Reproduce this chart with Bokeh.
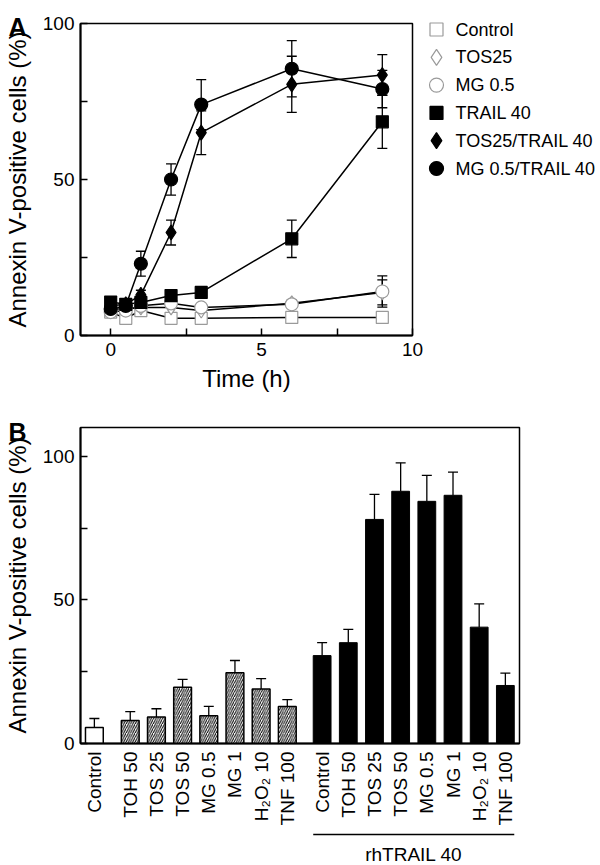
import math
from bokeh.plotting import figure
from bokeh.layouts import column
from bokeh.models import (Range1d, FixedTicker, Whisker, TeeHead, ColumnDataSource)
from bokeh.core.properties import value
from bokeh.embed import file_html
from bokeh.resources import INLINE

FONT = "Liberation Sans"

# ---------------- Panel A data ----------------
time_h = [0, 0.5, 1, 2, 3, 6, 9]
control = [7.5, 5.5, 8.0, 5.5, 5.5, 5.8, 5.8]
tos25 = [8.5, 8.5, 9.0, 9.0, 8.0, 10.3, 13.8]
mg05 = [7.5, 8.0, 9.5, 10.3, 9.0, 10.0, 14.1]
trail40 = [10.7, 10.0, 10.6, 12.8, 13.8, 31.0, 68.5]
tos_trail = [9.5, 10.0, 13.0, 33.0, 65.0, 80.5, 83.5]
mg_trail = [8.5, 9.5, 23.0, 50.0, 74.0, 85.5, 79.0]

control_err = [0, 0, 0, 0, 0, 0, 0]
tos25_err = [0, 0, 0, 0, 0, 1.0, 4.0]
mg05_err = [0, 0, 0, 0, 0, 1.0, 5.0]
trail40_err = [0, 0, 0, 1.0, 1.0, 6.0, 8.5]
tos_trail_err = [0, 0, 1.5, 4.0, 7.0, 9.0, 6.5]
mg_trail_err = [0, 0, 4.0, 5.0, 8.0, 9.0, 6.0]

series_labels = ["Control", "TOS25", "MG 0.5", "TRAIL 40", "TOS25/TRAIL 40", "MG 0.5/TRAIL 40"]

# ---------------- Panel B data ----------------
plain_labels = ["Control", "TOH 50", "TOS 25", "TOS 50", "MG 0.5", "MG 1", "H\u2082O\u2082 10", "TNF 100"]
plain_values = [5.6, 8.0, 9.2, 19.6, 9.7, 24.6, 19.0, 12.9]
plain_err = [3.1, 3.1, 2.9, 2.7, 3.2, 4.3, 3.6, 2.4]
trail_labels = ["Control", "TOH 50", "TOS 25", "TOS 50", "MG 0.5", "MG 1", "H\u2082O\u2082 10", "TNF 100"]
trail_values = [30.6, 35.1, 78.0, 87.8, 84.3, 86.4, 40.5, 20.2]
trail_err = [4.5, 4.6, 8.7, 9.9, 9.0, 8.1, 8.1, 4.3]
group_label = "rhTRAIL 40"
panel_letters = ["A", "B"]

OPEN = "#9a9a9a"
series_style = [  # marker, size, fill, outline
    ("square", 12, "white", OPEN),
    ("diamond", 15, "white", OPEN),
    ("circle", 13, "white", OPEN),
    ("square", 12, "black", "black"),
    ("diamond", 15, "black", "black"),
    ("circle", 13, "black", "black"),
]


def style_axes(p, tick_font="19px", label_font="24px"):
    p.xgrid.grid_line_color = None
    p.ygrid.grid_line_color = None
    p.outline_line_color = "black"
    p.outline_line_width = 1.5
    p.background_fill_color = "white"
    p.border_fill_color = "white"
    for ax in p.axis:
        ax.axis_line_width = 2
        ax.axis_line_color = "black"
        ax.major_tick_in = 7
        ax.major_tick_out = 0
        ax.major_tick_line_width = 1.5
        ax.minor_tick_line_color = None
        ax.major_label_text_font = FONT
        ax.major_label_text_font_size = tick_font
        ax.major_label_text_color = "black"
        ax.axis_label_text_font = FONT
        ax.axis_label_text_font_size = label_font
        ax.axis_label_text_font_style = "normal"
        ax.axis_label_text_color = "black"


def overlay_fig(left, top, width, height):
    """Small axis-less figure pinned at a page position (page-pixel data ranges)."""
    f = figure(width=width, height=height,
               x_range=Range1d(left, left + width), y_range=Range1d(top + height, top),
               output_backend="svg", toolbar_location=None,
               x_axis_location=None, y_axis_location=None,
               min_border=0, outline_line_color=None,
               styles={"position": "absolute", "left": f"{left}px", "top": f"{top}px"})
    f.xgrid.grid_line_color = None
    f.ygrid.grid_line_color = None
    f.border_fill_alpha = 0
    f.background_fill_alpha = 0
    return f


# ================= Panel A =================
pA = figure(width=592, height=418, x_range=Range1d(-1, 10), y_range=Range1d(0, 100),
            output_backend="svg", toolbar_location=None,
            min_border_left=78, min_border_right=180, min_border_top=23, min_border_bottom=83)
style_axes(pA)
pA.xaxis.ticker = FixedTicker(ticks=[0, 2.5, 5, 7.5, 10])
pA.xaxis.major_label_overrides = {0: "0", 2.5: "", 5: "5", 7.5: "", 10: "10"}
pA.yaxis.ticker = FixedTicker(ticks=[0, 25, 50, 75, 100])
pA.yaxis.major_label_overrides = {25: "", 75: ""}
pA.xaxis.axis_label = "Time (h)"
pA.yaxis.axis_label = "Annexin V-positive cells (%)"
pA.xaxis.major_label_standoff = 7
pA.yaxis.major_label_standoff = 6
pA.xaxis.axis_label_standoff = 6
pA.yaxis.axis_label_standoff = 9

series_vals = [control, tos25, mg05, trail40, tos_trail, mg_trail]
series_errs = [control_err, tos25_err, mg05_err, trail40_err, tos_trail_err, mg_trail_err]

for vals in series_vals:
    pA.line(time_h, vals, line_color="black", line_width=1.5)

for vals, errs in zip(series_vals, series_errs):
    t = [ti for ti, e in zip(time_h, errs) if e > 0]
    lo = [v - e for v, e in zip(vals, errs) if e > 0]
    hi = [v + e for v, e in zip(vals, errs) if e > 0]
    if not t:
        continue
    src = ColumnDataSource(dict(t=t, lo=lo, hi=hi))
    pA.add_layout(Whisker(base="t", lower="lo", upper="hi", source=src, line_width=1.3,
                          line_color="black",
                          upper_head=TeeHead(size=10, line_width=1.3, line_color="black"),
                          lower_head=TeeHead(size=10, line_width=1.3, line_color="black"),
                          level="underlay"))

for vals, (marker, size, fill, line) in zip(series_vals, series_style):
    pA.scatter(time_h, vals, marker=marker, size=size, fill_color=fill,
               line_color=line, line_width=1.2)

# ---- legend of panel A (to the right of the frame) ----
leg = overlay_fig(414, 8, 186, 175)
row_y = [29 + 27.8 * i for i in range(len(series_labels))]
for yy, (marker, size, fill, line) in zip(row_y, series_style):
    leg.scatter([436], [yy], marker=marker, size=size + 1, fill_color=fill,
                line_color=line, line_width=1.2)
leg.text(x=[455] * len(series_labels), y=row_y, text=series_labels,
         text_font=value(FONT), text_font_size="18px", text_baseline="middle",
         text_align="left", text_color="black")

# ================= Panel B =================
n_plain = len(plain_values)
first_gap = 1.37
second_gap = 1.33
pos_plain = [0.0] + [round(first_gap + i, 2) for i in range(n_plain - 1)]
pos_trail = [round(pos_plain[-1] + second_gap + i, 2) for i in range(len(trail_values))]
bar_w = 0.68

pB = figure(width=592, height=410, x_range=Range1d(-0.53, 16.24), y_range=Range1d(0, 110),
            output_backend="svg", toolbar_location=None,
            min_border_left=78, min_border_right=73, min_border_top=9, min_border_bottom=83)
style_axes(pB)
pB.yaxis.ticker = FixedTicker(ticks=[0, 25, 50, 75, 100])
pB.yaxis.major_label_overrides = {25: "", 75: ""}
pB.yaxis.axis_label = "Annexin V-positive cells (%)"
pB.yaxis.major_label_standoff = 6
pB.yaxis.axis_label_standoff = 9

all_pos = pos_plain + pos_trail
all_labels = plain_labels + trail_labels
pB.xaxis.ticker = FixedTicker(ticks=all_pos)
pB.xaxis.major_label_overrides = {p_: l_ for p_, l_ in zip(all_pos, all_labels)}
pB.xaxis.major_label_orientation = math.pi / 2
pB.xaxis.major_tick_line_color = None
pB.xaxis.major_label_standoff = 8
pB.xaxis.major_label_text_font_size = "19px"

pB.vbar(x=pos_plain[:1], top=plain_values[:1], width=bar_w, fill_color="white",
        line_color="black", line_width=1.5)
pB.vbar(x=pos_plain[1:], top=plain_values[1:], width=bar_w, fill_color="white",
        line_color="black", line_width=1.5, hatch_pattern="/", hatch_color="black",
        hatch_scale=4.5, hatch_weight=1)
pB.vbar(x=pos_trail, top=trail_values, width=bar_w, fill_color="black",
        line_color="black", line_width=1)

srcB = ColumnDataSource(dict(
    x=all_pos,
    lo=plain_values + trail_values,
    hi=[v + e for v, e in zip(plain_values + trail_values, plain_err + trail_err)],
))
pB.add_layout(Whisker(base="x", lower="lo", upper="hi", source=srcB, line_width=1.3,
                      line_color="black", lower_head=None,
                      upper_head=TeeHead(size=10, line_width=1.3, line_color="black")))

# ================= group bracket below panel B =================
pC = figure(width=592, height=36, x_range=pB.x_range, y_range=Range1d(0, 36),
            output_backend="svg", toolbar_location=None,
            x_axis_location=None, y_axis_location=None,
            min_border_left=78, min_border_right=73, min_border_top=0, min_border_bottom=0)
pC.xgrid.grid_line_color = None
pC.ygrid.grid_line_color = None
pC.outline_line_color = None
x0 = pos_trail[0] - bar_w / 2
x1 = pos_trail[-1] + bar_w / 2
pC.line([x0, x1], [30, 30], line_color="black", line_width=1.3)
pC.text(x=[(x0 + x1) / 2], y=[10], text=[group_label], text_align="center",
        text_baseline="alphabetic", text_font=value(FONT), text_font_size="19px",
        text_color="black")

rootB = column(pB, pC, spacing=0)

# ---- panel letters ----
letters = []
for letter, top, base in zip(panel_letters, [0, 396], [26, 431]):
    f = overlay_fig(6, top, 40, 50)
    f.text(x=[8], y=[base], text=[letter], text_font=value(FONT), text_font_size="25px",
           text_font_style="bold", text_baseline="alphabetic", text_align="left",
           text_color="black")
    letters.append(f)

open("out.html", "w").write(file_html([pA, rootB, leg] + letters, INLINE))
